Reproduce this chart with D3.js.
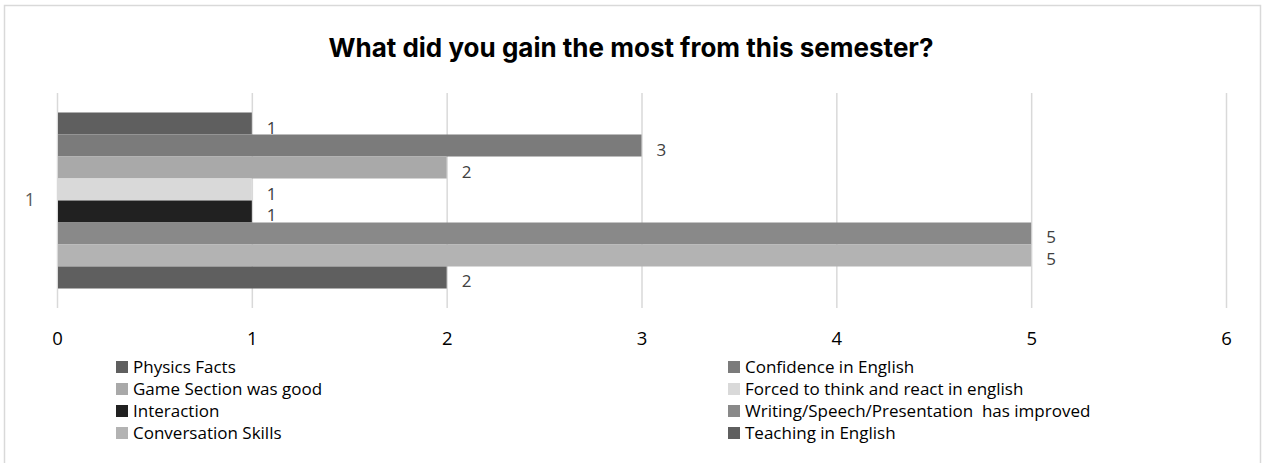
<!DOCTYPE html>
<html>
<head>
<meta charset="utf-8">
<script src="https://cdn.jsdelivr.net/npm/d3@7"></script>
<style>
  html, body { margin: 0; padding: 0; background: #fff; }
  svg { display: block; }
</style>
</head>
<body>
<svg id="chart" width="1263" height="463"></svg>
<script>
// Survey answers: one category, eight answer series
const categories = ["1"];
const seriesNames = [
  "Physics Facts",
  "Confidence in English",
  "Game Section was good",
  "Forced to think and react in english",
  "Interaction",
  "Writing/Speech/Presentation  has improved",
  "Conversation Skills",
  "Teaching in English"
];
const seriesValues = [1, 3, 2, 1, 1, 5, 5, 2];
const xTicks = [0, 1, 2, 3, 4, 5, 6];
const chartTitle = "What did you gain the most from this semester?";

// Fill colour per series
const seriesColors = ["#5f5f5f", "#7b7b7b", "#a9a9a9", "#d9d9d9", "#212121", "#898989", "#b3b3b3", "#5f5f5f"];

const svg = d3.select("#chart");
const font = "'Open Sans', sans-serif";

// Chart area border
svg.append("rect")
  .attr("x", 4.5).attr("y", 5.5)
  .attr("width", 1256).attr("height", 480)
  .attr("fill", "#fff").attr("stroke", "#d9d9d9").attr("stroke-width", 1.5);

// Title
svg.append("text")
  .attr("x", 631).attr("y", 57)
  .attr("text-anchor", "middle")
  .attr("font-family", "Inter, sans-serif")
  .attr("font-weight", 700)
  .attr("font-size", 26)
  .attr("fill", "#000")
  .text(chartTitle);

const plot = { left: 57, right: 1226, top: 93, bottom: 308 };

const x = d3.scaleLinear().domain([0, 6]).range([plot.left, plot.right]);
const y = d3.scaleBand().domain(categories).range([plot.top, plot.bottom])
  .paddingInner(0).paddingOuter(0.1108);
const ySeries = d3.scaleBand().domain(seriesNames).range([0, y.bandwidth()]);

// Vertical gridlines
const grid = svg.append("g")
  .attr("transform", `translate(0,${plot.bottom})`)
  .call(d3.axisBottom(x).tickValues(xTicks).tickSize(-(plot.bottom - plot.top)).tickFormat(""));
grid.select(".domain").remove();
grid.selectAll("line").attr("stroke", "#d9d9d9").attr("stroke-width", 1.5);

// Value axis labels
const xAxis = svg.append("g")
  .attr("transform", `translate(0,${plot.bottom})`)
  .call(d3.axisBottom(x).tickValues(xTicks).tickSize(0).tickPadding(24).tickFormat(d3.format("d")));
xAxis.select(".domain").remove();
xAxis.selectAll("text")
  .attr("font-family", font).attr("font-size", 18.5).attr("fill", "#000");

// Category axis label
const yAxis = svg.append("g")
  .attr("transform", `translate(${plot.left},0)`)
  .call(d3.axisLeft(y).tickSize(0).tickPadding(22));
yAxis.select(".domain").remove();
yAxis.selectAll("text")
  .attr("font-family", font).attr("font-size", 18).attr("fill", "#595959");

// Bars
const rows = categories.flatMap(c => seriesNames.map((s, i) => ({ cat: c, name: s, value: seriesValues[i], color: seriesColors[i] })));

svg.append("g").selectAll("rect")
  .data(rows)
  .join("rect")
  .attr("x", x(0) + 1)
  .attr("y", d => y(d.cat) + ySeries(d.name))
  .attr("width", d => x(d.value) - x(0) - 1)
  .attr("height", ySeries.bandwidth())
  .attr("fill", d => d.color);

// Data labels
svg.append("g").selectAll("text")
  .data(rows)
  .join("text")
  .attr("x", d => x(d.value) + 15)
  .attr("y", d => y(d.cat) + ySeries(d.name) + ySeries.bandwidth() / 2 + 10)
  .attr("font-family", font).attr("font-size", 17).attr("fill", "#404040")
  .text(d => d.value);

// Legend, two columns
const legendCols = [116, 728];
const legendRowY = d3.scaleLinear().domain([0, 1]).range([367, 389]);
const legend = svg.append("g").selectAll("g")
  .data(seriesNames)
  .join("g")
  .attr("transform", (d, i) => `translate(${legendCols[i % 2]},${legendRowY(Math.floor(i / 2))})`);
legend.append("rect")
  .attr("x", 0).attr("y", -6)
  .attr("width", 12).attr("height", 12)
  .attr("fill", (d, i) => seriesColors[i]);
legend.append("text")
  .attr("x", 17).attr("y", 6.2)
  .attr("font-family", font).attr("font-size", 17).attr("fill", "#000")
  .style("white-space", "pre")
  .text(d => d);
</script>
</body>
</html>
